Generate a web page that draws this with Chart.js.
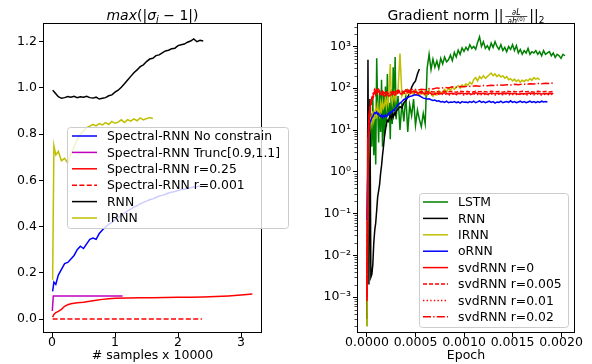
<!DOCTYPE html>
<html>
<head>
<meta charset="utf-8">
<script src="https://cdn.jsdelivr.net/npm/chart.js"></script>
<style>
    body { margin: 0; background: #fff; }
    #left { position: absolute; left: 0; top: 0; }
    #right { position: absolute; left: 296px; top: 0; }
</style>
</head>
<body>
<canvas id="left" width="296" height="364"></canvas>
<canvas id="right" width="296" height="364"></canvas>
<script>
    // ---- left panel: max(|sigma_i - 1|) vs # samples x 10000 ----
    const sampleGrid = [0.01, 0.03, 0.06, 0.1, 0.15, 0.2, 0.25, 0.3, 0.35, 0.4, 0.45, 0.5, 0.55, 0.6, 0.65, 0.7, 0.75, 0.8, 0.85, 0.9,
        0.95, 1.0, 1.05, 1.1, 1.15, 1.2, 1.25, 1.3, 1.35, 1.4, 1.45, 1.5, 1.55, 1.6, 1.65, 1.7, 1.75, 1.8, 1.85, 1.9,
        1.95, 2.0, 2.05, 2.1, 2.15, 2.2, 2.25, 2.3, 2.35, 2.4];
    const spectralFreeVals = [0.12, 0.16, 0.15, 0.19, 0.215, 0.24, 0.245, 0.26, 0.275, 0.3, 0.315, 0.305, 0.325, 0.345, 0.35, 0.345,
        0.37, 0.385, 0.398, 0.41, 0.418, 0.43, 0.438, 0.45, 0.458, 0.468, 0.476, 0.485, 0.49, 0.498, 0.505, 0.51, 0.516,
        0.52, 0.526, 0.532, 0.535, 0.54, 0.545, 0.549, 0.552, 0.556, 0.56, 0.562, 0.566, 0.568, 0.571, 0.573, 0.576];
    const truncX = [0.005, 0.02, 1.12];
    const truncVals = [0.035, 0.1, 0.1];
    const r025X = [0.01, 0.03, 0.06, 0.1, 0.15, 0.2, 0.25, 0.3, 0.35, 0.4, 0.5, 0.6, 0.7, 0.8, 0.9, 1.0, 1.2, 1.4, 1.6, 1.8,
        2.0, 2.2, 2.4, 2.6, 2.8, 3.0, 3.18];
    const r025Vals = [0.008, 0.02, 0.028, 0.033, 0.042, 0.055, 0.062, 0.066, 0.068, 0.07, 0.073, 0.077, 0.081, 0.085, 0.088,
        0.09, 0.091, 0.092, 0.092, 0.093, 0.094, 0.094, 0.095, 0.097, 0.1, 0.104, 0.108];
    const r0001X = [0.01, 2.38];
    const r0001Vals = [0, 0];
    const rnnSampleVals = [0.99, 0.985, 0.975, 0.962, 0.955, 0.958, 0.963, 0.96, 0.964, 0.958, 0.962, 0.96, 0.964, 0.958, 0.956,
        0.96, 0.952, 0.955, 0.958, 0.966, 0.97, 0.982, 0.99, 1.003, 1.018, 1.034, 1.05, 1.066, 1.078, 1.092, 1.1, 1.114,
        1.125, 1.128, 1.14, 1.143, 1.152, 1.16, 1.163, 1.17, 1.172, 1.183, 1.187, 1.19, 1.198, 1.203, 1.212, 1.2, 1.206, 1.203];
    const irnnSampleVals = [0.17, 0.75, 0.71, 0.725, 0.685, 0.695, 0.675, 0.715, 0.745, 0.775, 0.8, 0.815, 0.828, 0.835, 0.842,
        0.836, 0.846, 0.84, 0.85, 0.842, 0.855, 0.847, 0.852, 0.862, 0.85, 0.863, 0.856, 0.866, 0.858, 0.87, 0.862, 0.867,
        0.872, 0.868];
    const sampleTicks = [0, 1, 2, 3];
    const sigmaTicks = [0, 0.2, 0.4, 0.6, 0.8, 1.0, 1.2];

    // ---- right panel: gradient norm vs epoch (x stored in units of 1e-5 epoch) ----
    const epochFine = [0, 1, 2, 3, 4, 5, 6, 7, 8, 9, 10, 11, 12, 13, 14, 15, 16, 17, 18, 19, 20, 21, 22, 23, 24, 25, 26, 27, 28, 29, 30,
        32, 34, 36, 38, 40, 42, 44, 46, 48, 50, 52, 54, 56, 58, 60, 62, 64, 66, 68, 70, 72, 74, 76, 78, 80, 82, 84, 86, 88,
        90, 92, 94, 96, 98, 100, 102, 104, 106, 108, 110, 112, 114, 116, 118, 120, 122, 124, 126, 128, 130, 132, 134, 136,
        138, 140, 142, 144, 146, 148, 150, 152, 154, 156, 158, 160, 162, 164, 166, 168, 170, 172, 174, 176, 178, 180, 182,
        184, 186, 188, 190, 192, 194, 196, 198, 200, 202, 204];
    const epochCoarse = [0, 1, 2, 3, 4, 5, 6, 7, 8, 9, 10, 12, 14, 16, 18, 20, 23, 26, 29, 32, 36, 40, 44, 48, 52, 56, 60, 64, 68,
        72, 76, 80, 84, 88, 92, 96, 100, 104, 108, 112, 116, 120, 124, 128, 132, 136, 140, 144, 148, 152, 156, 160, 164,
        168, 172, 176, 180, 184, 188, 192];
    const lstmVals = [0.0002, 0.5, 6, 1.2, 25, 4, 60, 2.5, 18, 1.5, 520, 35, 5, 90, 9, 160, 4, 70, 7, 110, 12, 220, 22, 45, 6, 95,
        14, 320, 28, 560, 18,
        65, 10, 45, 16, 70, 9, 40, 22, 55, 13, 30, 18, 12, 25, 14,
        300, 650, 280, 500, 320, 450, 300, 520, 380, 560, 430, 480, 620, 460, 720, 560, 820, 650, 920, 760, 960, 820, 1100,
        900, 1000, 860, 1250, 1700, 1000, 1300, 900, 1050, 850, 1200, 950, 1300, 1000, 850, 1100, 800, 950, 750, 1000, 850,
        1100, 800, 1050, 700, 850, 650, 800, 700, 900, 650, 750, 700, 800, 650, 750, 600, 800, 650, 700, 750, 600, 700, 550,
        650, 600, 520, 650, 600];
    const rnnVals = [0.0003, 480, 0.002, 55, 0.003, 0.0035, 0.006, 0.02, 0.04, 0.06, 0.12, 0.25, 0.35, 0.5, 0.9, 1.4, 2.5, 4, 7,
        10, 14, 17, 16, 20, 22, 19, 24, 20, 26, 23, 28,
        32, 36, 34, 45, 50, 62, 75, 105, 130, 150, 220, 290];
    const irnnVals = [0.0002, 0.5, 6, 12, 20, 14, 28, 17, 24, 34, 19, 38, 27, 22, 44, 30, 48, 34, 40, 55, 36, 58, 44, 120, 380, 68,
        44, 60, 78, 52, 70,
        88, 680, 64, 80, 70, 92, 72, 86, 70, 92, 78, 68, 88, 72, 84, 68, 90, 74, 64, 80, 70, 88, 74, 84, 94, 80, 100, 88, 108,
        94, 104, 116, 100, 120, 110, 128, 118, 140, 125, 160, 180, 150, 190, 170, 200, 175, 190, 210, 230, 200, 220, 190,
        210, 185, 200, 175, 190, 160, 170, 150, 165, 145, 160, 140, 155, 145, 160, 150, 170, 155, 180, 165, 175, 160];
    const ornnVals = [0.07, 2, 9, 15, 17, 20, 21, 24, 26, 25, 27, 24, 25, 22, 21, 23, 20, 22, 21, 23, 21, 22, 25, 24, 27, 26, 28,
        30, 29, 33, 35,
        40, 44, 48, 54, 56, 60, 63, 65, 68, 70, 69, 66, 62, 58, 57, 55, 56, 53, 51, 52, 49, 50, 47, 48, 46, 49, 45, 47, 46, 48,
        45, 47, 44, 48, 46, 47, 45, 48, 46, 49, 45, 47, 50, 46, 48, 45, 47, 49, 46, 48, 44, 47, 46, 49, 45, 47, 48, 46, 50,
        46, 48, 45, 47, 49, 46, 48, 45, 47, 49, 46, 48, 45, 48, 46, 49, 47, 48, 47];
    const svd0Vals = [0.0008, 4, 18, 32, 45, 55, 62, 78, 85, 72, 88, 95, 70, 74, 65, 72, 66, 76, 70, 80, 74, 86, 78, 84, 76, 80, 74,
        78, 72, 76, 74, 78, 73, 76, 72, 77, 74, 76, 72, 78, 74, 76, 72, 77, 74, 76, 73, 77, 74, 76, 72, 75, 73, 77, 74, 76,
        73, 75, 74, 76];
    const svd005Vals = [0.001, 3, 14, 28, 40, 50, 58, 66, 80, 75, 90, 82, 76, 80, 72, 78, 74, 82, 78, 86, 80, 88, 82, 86, 80, 84,
        80, 85, 81, 84, 80, 85, 82, 84, 80, 85, 82, 84, 80, 85, 82, 84, 81, 85, 82, 84, 80, 85, 82, 84, 81, 85, 82, 84, 80,
        85, 82, 84, 81, 84];
    const svd01Vals = [0.0009, 3.5, 16, 30, 42, 52, 60, 70, 78, 70, 82, 74, 68, 72, 64, 70, 64, 72, 68, 76, 70, 80, 74, 78, 72, 74,
        70, 73, 69, 72, 70, 73, 69, 72, 70, 73, 69, 72, 70, 73, 69, 72, 70, 73, 69, 72, 70, 73, 69, 72, 70, 73, 69, 72, 70,
        73, 69, 72, 70, 72];
    const svd02Vals = [0.001, 5, 20, 35, 48, 60, 70, 85, 95, 80, 92, 84, 78, 86, 76, 82, 78, 86, 80, 90, 84, 92, 88, 96, 90, 94,
        92, 98, 96, 102, 100, 104, 102, 108, 106, 110, 108, 112, 110, 114, 112, 116, 115, 118, 116, 120, 118, 122, 120, 124,
        122, 126, 124, 128, 126, 130, 128, 132, 130, 134];
    const epochTicks = [0, 0.0005, 0.001, 0.0015, 0.002];
    const gradTicks = [1e-3, 1e-2, 1e-1, 1, 10, 100, 1000];
    const gradTickLabels = ['10\u207B\u00B3', '10\u207B\u00B2', '10\u207B\u00B9', '10\u2070', '10\u00B9', '10\u00B2', '10\u00B3'];

    const FONT = "'DejaVu Sans'";
    const tickFont = { family: FONT, size: 12.5 };

    function toPoints(xs, ys, k) {
        return ys.map(function (y, i) { return { x: xs[i] * k, y: y }; });
    }

    function line(label, color, data, dash) {
        return {
            label: label, data: data, borderColor: color, backgroundColor: color,
            borderWidth: 1.5, borderDash: dash || [], pointRadius: 0, fill: false, tension: 0
        };
    }

    function drawRuns(ctx, runs, cx, base) {
        var w = 0;
        runs.forEach(function (r) { ctx.font = r.f; r.w = ctx.measureText(r.t).width; w += r.w; });
        var x = cx - w / 2;
        ctx.textBaseline = 'alphabetic';
        ctx.textAlign = 'left';
        runs.forEach(function (r) { ctx.font = r.f; ctx.fillText(r.t, x, base + (r.dy || 0)); x += r.w; });
        return w;
    }

    function drawLegend(chart, L) {
        var ctx = chart.ctx;
        ctx.save();
        var x = L.x + 0.5, y = L.y + 0.5, w = L.w, h = L.h, r = 3;
        ctx.beginPath();
        ctx.moveTo(x + r, y);
        ctx.lineTo(x + w - r, y); ctx.quadraticCurveTo(x + w, y, x + w, y + r);
        ctx.lineTo(x + w, y + h - r); ctx.quadraticCurveTo(x + w, y + h, x + w - r, y + h);
        ctx.lineTo(x + r, y + h); ctx.quadraticCurveTo(x, y + h, x, y + h - r);
        ctx.lineTo(x, y + r); ctx.quadraticCurveTo(x, y, x + r, y);
        ctx.closePath();
        ctx.fillStyle = 'rgba(255,255,255,0.8)';
        ctx.fill();
        ctx.strokeStyle = '#cccccc';
        ctx.lineWidth = 1;
        ctx.stroke();
        ctx.font = '12.4px ' + FONT;
        ctx.textBaseline = 'middle';
        ctx.textAlign = 'left';
        chart.data.datasets.forEach(function (ds, i) {
            var cy = L.first + i * L.row;
            ctx.beginPath();
            ctx.setLineDash(ds.borderDash);
            ctx.strokeStyle = ds.borderColor;
            ctx.lineWidth = ds.borderWidth;
            ctx.moveTo(L.x + L.h0, cy);
            ctx.lineTo(L.x + L.h1, cy);
            ctx.stroke();
            ctx.setLineDash([]);
            ctx.fillStyle = '#000';
            ctx.fillText(ds.label, L.x + L.tx, cy + 1);
        });
        ctx.restore();
    }

    function makeDecor(cfg) {
        return {
            id: 'decor',
            afterDatasetsDraw: function (chart) {
                var ctx = chart.ctx, a = chart.chartArea;
                ctx.save();
                ctx.strokeStyle = '#000';
                ctx.lineWidth = 1;
                ctx.strokeRect(Math.round(a.left) + 0.5, Math.round(a.top) + 0.5,
                    Math.round(a.right - a.left) - 1, Math.round(a.bottom - a.top) - 1);
                if (cfg.minorLog) {
                    var s = chart.scales.y;
                    ctx.lineWidth = 0.7;
                    for (var k = -4; k <= 3; k++) {
                        for (var m = 2; m <= 9; m++) {
                            var v = m * Math.pow(10, k);
                            if (v <= s.min || v >= s.max) continue;
                            var py = Math.round(s.getPixelForValue(v)) + 0.5;
                            ctx.beginPath();
                            ctx.moveTo(a.left - 2.5, py);
                            ctx.lineTo(a.left, py);
                            ctx.stroke();
                        }
                    }
                }
                ctx.restore();
            },
            afterDraw: function (chart) {
                var ctx = chart.ctx;
                ctx.save();
                ctx.fillStyle = '#000';
                cfg.title(ctx, chart);
                ctx.restore();
                drawLegend(chart, cfg.legend);
            }
        };
    }

    function baseScale(extra, callback, padding) {
        var s = {
            ticks: { font: tickFont, color: '#000', autoSkip: false, maxRotation: 0, callback: callback, padding: padding },
            grid: { drawOnChartArea: false, drawTicks: true, tickLength: 4, color: '#000', lineWidth: 1 },
            border: { display: false }
        };
        return Object.assign(s, extra);
    }

    // ---- left chart ----
    var leftSets = [
        line('Spectral-RNN No constrain', '#0000ff', toPoints(sampleGrid, spectralFreeVals, 1)),
        line('Spectral-RNN Trunc[0.9,1.1]', '#bf00bf', toPoints(truncX, truncVals, 1)),
        line('Spectral-RNN r=0.25', '#ff0000', toPoints(r025X, r025Vals, 1)),
        line('Spectral-RNN r=0.001', '#ff0000', toPoints(r0001X, r0001Vals, 1), [5, 2.4]),
        line('RNN', '#000000', toPoints(sampleGrid, rnnSampleVals, 1)),
        line('IRNN', '#bfbf00', toPoints(sampleGrid, irnnSampleVals, 1))
    ];
    leftSets.forEach(function (d, i) { d.order = -i; });

    new Chart('left', {
        type: 'line',
        data: { datasets: leftSets },
        options: {
            responsive: false, animation: false, events: [],
            layout: { padding: { left: 0, top: 23, right: 34, bottom: 0 } },
            plugins: { legend: { display: false }, tooltip: { enabled: false }, title: { display: false } },
            scales: {
                x: baseScale({
                    type: 'linear', min: -0.143, max: 3.333,
                    afterBuildTicks: function (s) { s.ticks = sampleTicks.map(function (v) { return { value: v }; }); },
                    afterFit: function (s) { s.height = 31; s.paddingLeft = 0; s.paddingRight = 0; },
                    title: { display: true, text: '# samples x 10000', font: tickFont, color: '#000', padding: { top: 0, bottom: 1 } }
                }, function (v) { return String(v); }, -2),
                y: baseScale({
                    type: 'linear', min: -0.0605, max: 1.281,
                    afterBuildTicks: function (s) { s.ticks = sigmaTicks.map(function (v) { return { value: v }; }); },
                    afterFit: function (s) { s.width = 43; s.paddingTop = 0; s.paddingBottom = 0; }
                }, function (v) { return Number(v).toFixed(1); }, 2)
            }
        },
        plugins: [makeDecor({
            title: function (ctx, chart) {
                var a = chart.chartArea;
                drawRuns(ctx, [
                    { t: 'max', f: 'italic 14px ' + FONT },
                    { t: '(|', f: '14px ' + FONT },
                    { t: '\u03C3', f: 'italic 14px ' + FONT },
                    { t: 'i', f: 'italic 10px ' + FONT, dy: 3 },
                    { t: ' \u2212 1|)', f: '14px ' + FONT }
                ], (a.left + a.right) / 2, 20);
            },
            legend: { x: 67, y: 127, w: 221, h: 101, first: 136, row: 16.4, h0: 5, h1: 30, tx: 40 }
        })]
    });

    // ---- right chart ----
    var rightSets = [
        line('LSTM', '#008000', toPoints(epochFine, lstmVals, 1e-5)),
        line('RNN', '#000000', toPoints(epochFine, rnnVals, 1e-5)),
        line('IRNN', '#bfbf00', toPoints(epochFine, irnnVals, 1e-5)),
        line('oRNN', '#0000ff', toPoints(epochFine, ornnVals, 1e-5)),
        line('svdRNN r=0', '#ff0000', toPoints(epochCoarse, svd0Vals, 1e-5)),
        line('svdRNN r=0.005', '#ff0000', toPoints(epochCoarse, svd005Vals, 1e-5), [4, 2]),
        line('svdRNN r=0.01', '#ff0000', toPoints(epochCoarse, svd01Vals, 1e-5), [1.4, 2.2]),
        line('svdRNN r=0.02', '#ff0000', toPoints(epochCoarse, svd02Vals, 1e-5), [8, 2.2, 1.4, 2.2])
    ];
    rightSets.forEach(function (d, i) { d.order = -i; });

    new Chart('right', {
        type: 'line',
        data: { datasets: rightSets },
        options: {
            responsive: false, animation: false, events: [],
            layout: { padding: { left: 0, top: 23, right: 17, bottom: 0 } },
            plugins: { legend: { display: false }, tooltip: { enabled: false }, title: { display: false } },
            scales: {
                x: baseScale({
                    type: 'linear', min: -0.000103, max: 0.002144,
                    afterBuildTicks: function (s) { s.ticks = epochTicks.map(function (v) { return { value: v }; }); },
                    afterFit: function (s) { s.height = 31; s.paddingLeft = 0; s.paddingRight = 0; },
                    title: { display: true, text: 'Epoch', font: tickFont, color: '#000', padding: { top: 0, bottom: 1 } }
                }, function (v) { return Number(v).toFixed(4); }, -2),
                y: baseScale({
                    type: 'logarithmic', min: 1.38e-4, max: 3650,
                    afterBuildTicks: function (s) { s.ticks = gradTicks.map(function (v) { return { value: v }; }); },
                    afterFit: function (s) { s.width = 61; s.paddingTop = 0; s.paddingBottom = 0; }
                }, function (v, i) { return gradTickLabels[i]; }, 2)
            }
        },
        plugins: [makeDecor({
            minorLog: true,
            title: function (ctx, chart) {
                var a = chart.chartArea, cx = (a.left + a.right) / 2, base = 20;
                var big = '14px ' + FONT;
                ctx.font = big;
                var w1 = ctx.measureText('Gradient norm ||').width;
                var w3 = ctx.measureText('||').width;
                ctx.font = '9px ' + FONT;
                var w4 = ctx.measureText('2').width;
                var fw = 26;
                var x = cx - (w1 + fw + w3 + w4) / 2;
                ctx.font = big;
                ctx.textAlign = 'left';
                ctx.fillText('Gradient norm ||', x, base);
                var fx = x + w1 + fw / 2;
                drawRuns(ctx, [
                    { t: '\u2202', f: '8px ' + FONT },
                    { t: 'L', f: 'italic 8px ' + FONT }
                ], fx, base - 5.5);
                ctx.fillRect(fx - fw / 2 + 2, base - 4, fw - 4, 0.7);
                drawRuns(ctx, [
                    { t: '\u2202', f: '8px ' + FONT },
                    { t: 'h', f: 'italic 8px ' + FONT },
                    { t: '(0)', f: '5.5px ' + FONT, dy: -3 }
                ], fx, base + 4);
                ctx.font = big;
                ctx.textAlign = 'left';
                ctx.fillText('||', x + w1 + fw, base);
                ctx.font = '9px ' + FONT;
                ctx.fillText('2', x + w1 + fw + w3, base + 3);
            },
            legend: { x: 123, y: 193, w: 149, h: 134, first: 202, row: 16.4, h0: 4, h1: 29, tx: 39 }
        })]
    });
</script>
</body>
</html>
